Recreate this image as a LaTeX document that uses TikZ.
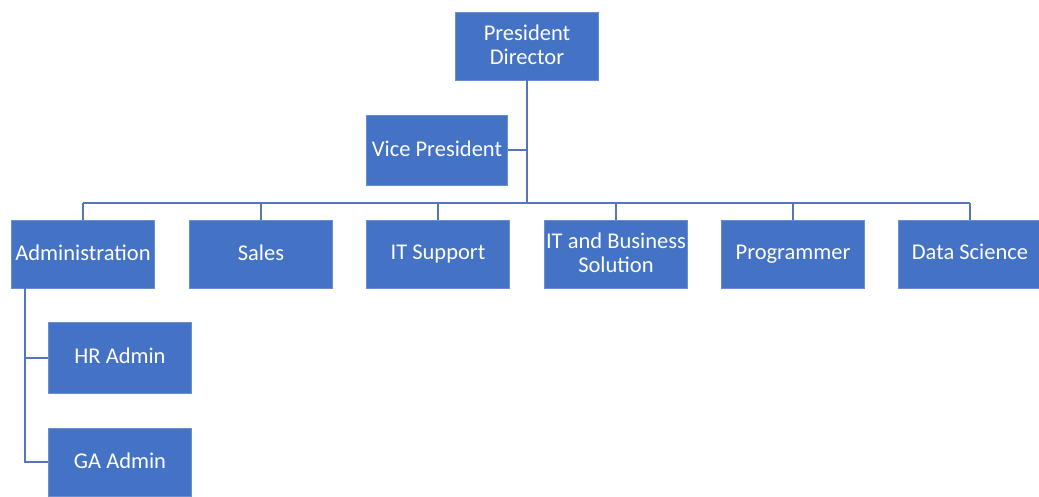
\documentclass[tikz,border=0pt]{standalone}
\usepackage{fontspec}
\setmainfont{Carlito}
\definecolor{boxblue}{HTML}{4472C4}
\definecolor{boxedge}{HTML}{6A8FD0}
\definecolor{linkblue}{HTML}{5577B8}
\newcommand{\pdepth}{\vphantom{p}}
\begin{document}
\begin{tikzpicture}[x=1pt,y=-1pt,
  orgbox/.style={rectangle, fill=boxblue, draw=boxedge, line width=0.8pt,
    minimum width=143pt, minimum height=68pt, inner sep=0pt, align=center,
    text=white, font=\fontsize{22.5}{24}\selectfont},
  link/.style={draw=linkblue, line width=2pt}]
\useasboundingbox (0,0) rectangle (1039,496);
\node[orgbox] (pd) at (527,46) {President\\Director\pdepth};
\node[orgbox, minimum width=141pt, minimum height=70pt] (vp) at (437,150) {Vice President\pdepth};
\node[orgbox] (admin) at (83,254) {Administration\pdepth};
\node[orgbox] (sales) at (261,254) {Sales\pdepth};
\node[orgbox] (its) at (438,254) {IT Support\pdepth};
\node[orgbox] (itb) at (616,254) {IT and Business\\Solution\pdepth};
\node[orgbox] (prog) at (793,254) {Programmer\pdepth};
\node[orgbox] (ds) at (970,254) {Data Science\pdepth};
\node[orgbox, minimum height=71pt] (hr) at (120,357.5) {HR Admin\pdepth};
\node[orgbox] (ga) at (120,462) {GA Admin\pdepth};
\coordinate (busL) at (83,203);
\coordinate (busR) at (970,203);
\draw[link] (pd.south) -- (pd.south |- busL);
\draw[link] (vp.east) -- (vp.east -| pd.south);
\draw[link] (busL) -- (busR);
\foreach \n in {admin,sales,its,itb,prog,ds}{
  \draw[link] (\n.north) -- (\n.north |- busL);
}
\coordinate (ad) at ([xshift=14pt]admin.south west);
\draw[link] (ad) |- (ga.west);
\draw[link] (ad |- hr.west) -- (hr.west);
\end{tikzpicture}
\end{document}
